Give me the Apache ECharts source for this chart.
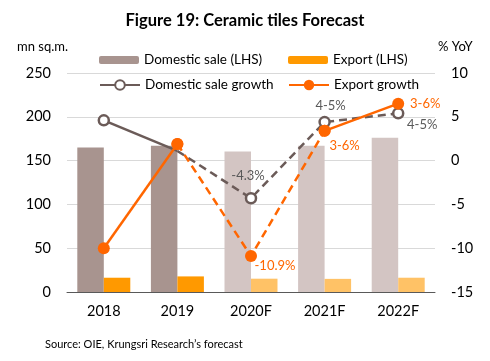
<!DOCTYPE html>
<html><head><meta charset="utf-8">
<script src="https://cdn.jsdelivr.net/npm/echarts@6/dist/echarts.min.js"></script>
<style>html,body{margin:0;padding:0;background:#fff}#c{width:490px;height:361px}</style>
</head><body><div id="c"></div>
<script>
const categories = ['2018', '2019', '2020F', '2021F', '2022F'];
const domesticSale = [165, 167, 160.5, 167, 176];
const exportSale = [16.3, 17.8, 15.2, 15, 16.3];
const domesticGrowth = [4.6, 1.1, -4.3, 4.4, 5.4];
const exportGrowth = [-10, 1.9, -10.9, 3.4, 6.5];
const domesticLabels = ['', '', '-4.3%', '4-5%', '4-5%'];
const exportLabels = ['', '', '-10.9%', '3-6%', '3-6%'];
const forecastFrom = 2; // index of first forecast category

const FONT = 'Lato';
const C_DOM = '#A8948F', C_DOM_F = '#D3C5C3';
const C_EXP = '#FF9900', C_EXP_F = '#FFC266';
const C_DG = '#6B5B58', C_EG = '#FF6600';

const domOffsets = [null, null, [-3, -22], [6, -16], [24, 12]];
const expOffsets = [null, null, [24, 10], [20, 15], [27, 0]];

function barData(vals, cA, cF) {
  return vals.map((v, i) => ({ value: v, itemStyle: { color: i >= forecastFrom ? cF : cA } }));
}
function lineData(vals, from, to, labels, offs, color, hideIdx) {
  return vals.map((v, i) => {
    if (i < from || i > to) return null;
    const item = { value: v };
    if (hideIdx && hideIdx.includes(i)) item.symbol = 'none';
    if (labels[i] && offs[i] && (i > from || from === 0)) {
      item.label = { show: true, formatter: labels[i], position: 'inside', offset: offs[i], color: color, fontSize: 13, fontFamily: FONT };
    }
    return item;
  });
}

const chart = echarts.init(document.getElementById('c'));
const dash = [8, 5];
const legText = { fontSize: 13.5, color: '#000', fontFamily: FONT };
chart.setOption({
  animation: false,
  textStyle: { fontFamily: FONT },
  title: { text: 'Figure 19: Ceramic tiles Forecast', left: 'center', top: 7,
    textStyle: { fontFamily: FONT, fontWeight: 'bold', fontSize: 16.5, color: '#000' } },
  graphic: [
    { type: 'text', left: 17, top: 40, style: { text: 'mn sq.m.', font: '13px ' + FONT, fill: '#000' } },
    { type: 'text', left: 438, top: 40, style: { text: '% YoY', font: '13px ' + FONT, fill: '#000' } },
    { type: 'text', left: 45, top: 339, style: { text: 'Source: OIE, Krungsri Research\u2019s forecast', font: '11px ' + FONT, fill: '#000' } }
  ],
  legend: [
    { data: ['Domestic sale (LHS)'], left: 94, top: 48, itemWidth: 40, itemHeight: 8, textStyle: legText },
    { data: ['Export (LHS)'], left: 283, top: 48, itemWidth: 40, itemHeight: 8, textStyle: legText },
    { data: ['Domestic sale growth'], left: 94, top: 73, itemWidth: 40, itemHeight: 12, textStyle: legText },
    { data: ['Export growth'], left: 283, top: 73, itemWidth: 40, itemHeight: 13, textStyle: legText }
  ],
  grid: { left: 67, right: 55, top: 73, bottom: 69 },
  xAxis: {
    type: 'category', data: categories,
    axisLine: { lineStyle: { color: '#595959', width: 1 } },
    axisTick: { show: false },
    axisLabel: { color: '#000', fontSize: 14.5, margin: 12, fontFamily: FONT }
  },
  yAxis: [
    { type: 'value', min: 0, max: 250, interval: 50,
      axisLabel: { color: '#000', fontSize: 14.5, margin: 16, fontFamily: FONT },
      splitLine: { lineStyle: { color: '#D9D9D9' } },
      axisLine: { show: false }, axisTick: { show: false } },
    { type: 'value', min: -15, max: 10, interval: 5,
      axisLabel: { color: '#000', fontSize: 14.5, margin: 16, fontFamily: FONT },
      splitLine: { show: false }, axisLine: { show: false }, axisTick: { show: false } }
  ],
  series: [
    { name: 'Domestic sale (LHS)', type: 'bar', data: barData(domesticSale, C_DOM, C_DOM_F),
      itemStyle: { color: C_DOM }, barWidth: '36%', barGap: '0%', z: 1 },
    { name: 'Export (LHS)', type: 'bar', data: barData(exportSale, C_EXP, C_EXP_F),
      itemStyle: { color: C_EXP }, barWidth: '36%', barGap: '0%', z: 1 },
    { name: 'Domestic sale growth', type: 'line', yAxisIndex: 1,
      data: lineData(domesticGrowth, 0, 1, domesticLabels, domOffsets, '#595959', [1]),
      symbol: 'circle', symbolSize: 10, color: C_DG,
      itemStyle: { color: '#fff', borderColor: C_DG, borderWidth: 2.5 },
      lineStyle: { color: C_DG, width: 2.5 }, z: 3 },
    { name: 'dg-f', type: 'line', yAxisIndex: 1,
      data: lineData(domesticGrowth, 1, 4, domesticLabels, domOffsets, '#595959', [1]),
      symbol: 'circle', symbolSize: 10,
      itemStyle: { color: '#fff', borderColor: C_DG, borderWidth: 2.5 },
      lineStyle: { color: C_DG, width: 2.5, type: dash }, z: 3 },
    { name: 'Export growth', type: 'line', yAxisIndex: 1,
      data: lineData(exportGrowth, 0, 1, exportLabels, expOffsets, C_EG),
      symbol: 'circle', symbolSize: 12, color: C_EG,
      itemStyle: { color: C_EG },
      lineStyle: { color: C_EG, width: 2.5 }, z: 4 },
    { name: 'eg-f', type: 'line', yAxisIndex: 1,
      data: lineData(exportGrowth, 1, 3, exportLabels, expOffsets, C_EG),
      symbol: 'circle', symbolSize: 12,
      itemStyle: { color: C_EG },
      lineStyle: { color: C_EG, width: 2.5, type: dash }, z: 4 },
    { name: 'eg-f2', type: 'line', yAxisIndex: 1,
      data: lineData(exportGrowth, 3, 4, exportLabels, expOffsets, C_EG),
      symbol: 'circle', symbolSize: 12,
      itemStyle: { color: C_EG },
      lineStyle: { color: C_EG, width: 2.5 }, z: 4 }
  ]
});
</script></body></html>
